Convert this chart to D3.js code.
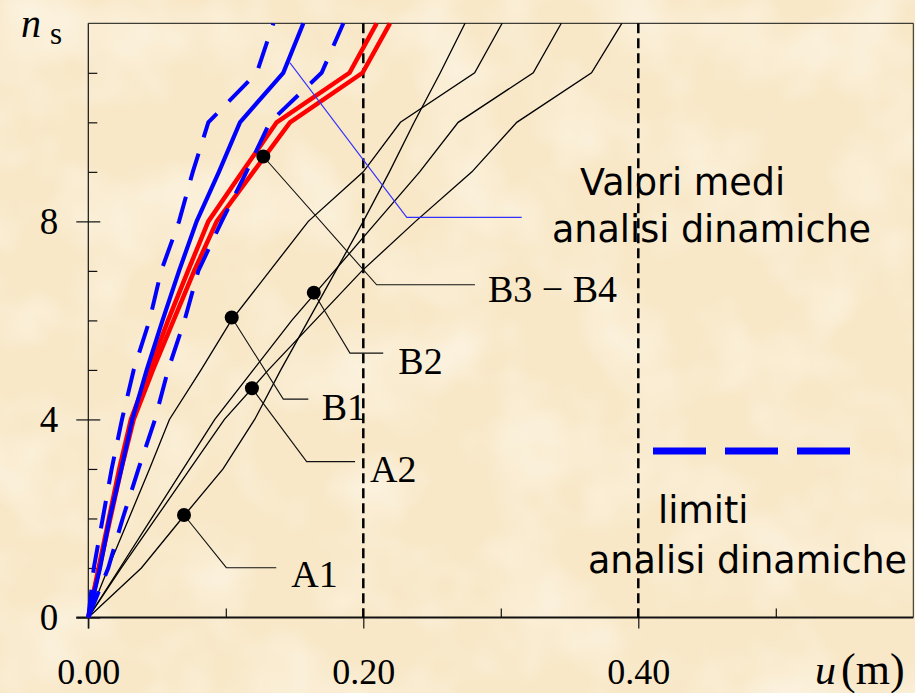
<!DOCTYPE html>
<html>
<head>
<meta charset="utf-8">
<script src="https://cdn.jsdelivr.net/npm/d3@7/dist/d3.min.js"></script>
<style>
html, body { margin: 0; padding: 0; background: #f9eacc; }
svg { display: block; }
</style>
</head>
<body>
<svg width="915" height="693"></svg>
<script>
// storey index (vertical axis) and storey displacements u (m)
const storeys  = [0, 1, 2, 3, 4, 5, 6, 7, 8, 9, 10, 11, 12];
const uA1      = [0, 0.0386, 0.068, 0.098, 0.121, 0.140, 0.160, 0.180, 0.200, 0.219, 0.237, 0.256, 0.274];
const uA2      = [0, 0.024, 0.049, 0.074, 0.099, 0.131, 0.165, 0.199, 0.238, 0.279, 0.3116, 0.366, 0.388];
const uB1      = [0, 0.0145, 0.0295, 0.0445, 0.059, 0.082, 0.104, 0.132, 0.160, 0.200, 0.227, 0.281, 0.301];
const uB2      = [0, 0.023, 0.046, 0.069, 0.092, 0.120, 0.148, 0.179, 0.210, 0.241, 0.269, 0.3236, 0.344];
const uB3      = [0, 0.0075, 0.015, 0.0225, 0.031, 0.0445, 0.058, 0.0725, 0.0873, 0.112, 0.137, 0.190, 0.2097];
const uB4      = [0, 0.008, 0.016, 0.024, 0.033, 0.047, 0.062, 0.077, 0.0934, 0.120, 0.1467, 0.1995, 0.2194];
const uMean    = [0, 0.0085, 0.0155, 0.024, 0.032, 0.0425, 0.054, 0.066, 0.0788, 0.095, 0.1103, 0.1418, 0.1564];
const uLimLow  = [0, 0.004, 0.0105, 0.017, 0.0245, 0.033, 0.0445, 0.053, 0.066, 0.076, 0.0873, 0.1225, 0.1346];
const uLimHigh = [0, 0.0145, 0.025, 0.0365, 0.0485, 0.058, 0.070, 0.080, 0.097, 0.115, 0.132, 0.1697, 0.1855];

// axis ticks
const xMajor = [0, 0.2, 0.4];
const xTickLabels = ['0.00', '0.20', '0.40'];
const xMinor = [0.1, 0.3, 0.5];
const yMajor = [0, 4, 8];
const yTickLabels = ['0', '4', '8'];
const yMinor = [1, 2, 3, 5, 6, 7, 9, 10, 11];
const refLines = [0.2, 0.4];

// labelled points: dot (u, n), leader elbow, leader end, label start
const labelNames = ['A1', 'A2', 'B1', 'B2', 'B3 \u2212 B4'];
const dotU   = [0.0696, 0.119, 0.1043, 0.164, 0.1273];
const dotN   = [2.07, 4.63, 6.06, 6.56, 9.31];
const elbowU = [0.1004, 0.1588, 0.1418, 0.1903, 0.2097];
const elbowN = [1.006, 3.147, 4.41, 5.34, 6.72];
const endU   = [0.1367, 0.194, 0.160, 0.2145, 0.2812];
const labelU = [0.1476, 0.2049, 0.1697, 0.2255, 0.2907];
const labelN = [0.61, 2.74, 3.99, 4.92, 6.37];

const svg = d3.select('svg');
const width = +svg.attr('width');
const height = +svg.attr('height');
const margin = {left: 88.3, top: 23.3, right: 1.7, bottom: 75.5};

const xScale = d3.scaleLinear().domain([0, 0.6]).range([margin.left, width - margin.right]);
const yScale = d3.scaleLinear().domain([0, 12]).range([height - margin.bottom, margin.top]);

// parchment background
const defs = svg.append('defs');
const paper = defs.append('filter').attr('id', 'paper')
    .attr('x', 0).attr('y', 0).attr('width', '100%').attr('height', '100%');
paper.append('feTurbulence').attr('type', 'fractalNoise')
    .attr('baseFrequency', 0.012).attr('numOctaves', 3).attr('seed', 5);
paper.append('feColorMatrix').attr('type', 'matrix')
    .attr('values', '0 0 0 0 0.99  0 0 0 0 0.955  0 0 0 0 0.875  1.2 0 0 0 -0.5');
svg.append('rect').attr('width', width).attr('height', height).attr('fill', '#f8e8c8');
svg.append('rect').attr('width', width).attr('height', height).attr('filter', 'url(#paper)');

const serif = '"Liberation Serif", "Times New Roman", serif';
const hand = '"Comic Sans MS", "DejaVu Sans", sans-serif';

// frame
const x0 = xScale(0), x1 = xScale(0.6), y0 = yScale(0), y1 = yScale(12);
svg.append('line').attr('x1', x0).attr('x2', x1).attr('y1', y1).attr('y2', y1)
    .attr('stroke', '#111').attr('stroke-width', 1);
svg.append('line').attr('x1', x1).attr('x2', x1).attr('y1', y1).attr('y2', y0)
    .attr('stroke', '#222').attr('stroke-width', 1);
svg.append('line').attr('x1', x0).attr('x2', x0).attr('y1', y1).attr('y2', y0 + 11)
    .attr('stroke', '#111').attr('stroke-width', 1.2);
svg.append('line').attr('x1', x0 - 12).attr('x2', x1).attr('y1', y0).attr('y2', y0)
    .attr('stroke', '#111').attr('stroke-width', 2);

// axes through d3 axis generators
const styleAxis = g => {
    g.select('.domain').remove();
    g.selectAll('.tick line').attr('stroke', '#111').attr('stroke-width', 1.2);
    g.selectAll('.tick text').attr('fill', '#000')
        .attr('font-family', serif).attr('font-size', 37);
};
svg.append('g').attr('transform', `translate(${x0},0)`)
    .call(d3.axisLeft(yScale).tickValues(yMajor).tickSize(12).tickPadding(18)
        .tickFormat((d, i) => yTickLabels[i]))
    .call(styleAxis);
svg.append('g').attr('transform', `translate(${x0},0)`)
    .call(d3.axisLeft(yScale).tickValues(yMajor).tickSize(-12).tickFormat(''))
    .call(styleAxis);
svg.append('g').attr('transform', `translate(${x0},0)`)
    .call(d3.axisLeft(yScale).tickValues(yMinor).tickSize(-9).tickFormat(''))
    .call(styleAxis);
svg.append('g').attr('transform', `translate(0,${y0})`)
    .call(d3.axisBottom(xScale).tickValues(xMajor).tickSize(11).tickPadding(30)
        .tickFormat((d, i) => xTickLabels[i]))
    .call(styleAxis)
    .call(g => g.selectAll('.tick text').attr('font-size', 36));
svg.append('g').attr('transform', `translate(0,${y0})`)
    .call(d3.axisBottom(xScale).tickValues(xMinor).tickSize(-9).tickFormat(''))
    .call(styleAxis);

// axis titles
const nt = svg.append('text').attr('x', 21).attr('y', 36.5).attr('font-family', serif);
nt.append('tspan').attr('font-style', 'italic').attr('font-size', 40).text('n');
nt.append('tspan').attr('dx', 9).attr('dy', 7).attr('font-size', 31).text('s');
const ut = svg.append('text').attr('x', 815).attr('y', 684).attr('font-family', serif);
ut.append('tspan').attr('font-style', 'italic').attr('font-size', 42).text('u');
ut.append('tspan').attr('dx', 5).attr('font-size', 44).text('(m)');

// dashed reference verticals
svg.selectAll('.ref').data(refLines).enter().append('line')
    .attr('class', 'ref')
    .attr('x1', d => xScale(d)).attr('x2', d => xScale(d))
    .attr('y1', y1).attr('y2', y0)
    .attr('stroke', '#000').attr('stroke-width', 2.5)
    .attr('stroke-dasharray', '10,5');

const line = d3.line().x(d => xScale(d[0])).y(d => yScale(d[1]));
const curve = (u, color, w, dash) => {
    svg.append('path').datum(d3.zip(u, storeys))
        .attr('d', line)
        .attr('fill', 'none')
        .attr('stroke', color)
        .attr('stroke-width', w)
        .attr('stroke-linejoin', 'miter')
        .attr('stroke-dasharray', dash || null);
};

// building profiles
[uA1, uA2, uB1, uB2].forEach(u => curve(u, '#000', 1.3));
curve(uB3, '#ff0000', 4.5);
curve(uB4, '#ff0000', 4.5);
curve(uLimLow, '#0000ff', 4, '28,17');
curve(uLimHigh, '#0000ff', 4, '28,17');
curve(uMean, '#0000ff', 4.2);

// leaders, dots and labels
labelNames.forEach((name, i) => {
    svg.append('polyline')
        .attr('points', [[dotU[i], dotN[i]], [elbowU[i], elbowN[i]], [endU[i], elbowN[i]]]
            .map(p => [xScale(p[0]), yScale(p[1])].join(',')).join(' '))
        .attr('fill', 'none').attr('stroke', '#111').attr('stroke-width', 1.1);
});
svg.selectAll('.dot').data(labelNames).enter().append('circle')
    .attr('class', 'dot')
    .attr('cx', (d, i) => xScale(dotU[i]))
    .attr('cy', (d, i) => yScale(dotN[i]))
    .attr('r', 7).attr('fill', '#000');
svg.selectAll('.lab').data(labelNames).enter().append('text')
    .attr('class', 'lab')
    .attr('x', (d, i) => xScale(labelU[i]))
    .attr('y', (d, i) => yScale(labelN[i]))
    .attr('font-family', serif).attr('font-size', 38).attr('fill', '#000')
    .text(d => d);

// mean-value leader
svg.append('polyline')
    .attr('points', [[0.1467, 11.2], [0.2316, 8.08], [0.3152, 8.08]]
        .map(p => [xScale(p[0]), yScale(p[1])].join(',')).join(' '))
    .attr('fill', 'none').attr('stroke', '#3030ff').attr('stroke-width', 1.1);

svg.append('text').attr('x', 580).attr('y', 195)
    .attr('font-family', hand).attr('font-size', 36.5).text('Valori medi');
svg.append('text').attr('x', 552).attr('y', 242)
    .attr('font-family', hand).attr('font-size', 36.5).text('analisi dinamiche');

// legend for the limits
svg.append('line').attr('x1', 653).attr('x2', 850).attr('y1', 451).attr('y2', 451)
    .attr('stroke', '#0000ff').attr('stroke-width', 7).attr('stroke-dasharray', '53,19');
svg.append('text').attr('x', 658).attr('y', 523)
    .attr('font-family', hand).attr('font-size', 36.5).text('limiti');
svg.append('text').attr('x', 588).attr('y', 573)
    .attr('font-family', hand).attr('font-size', 36.5).text('analisi dinamiche');
</script>
</body>
</html>
